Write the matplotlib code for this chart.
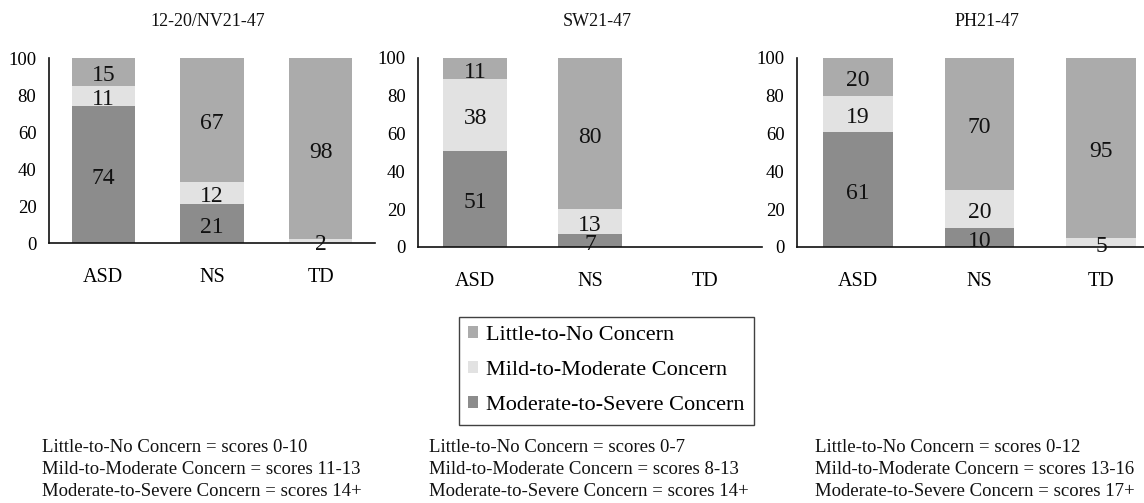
import numpy as np
import matplotlib
matplotlib.use('Agg')
import matplotlib.pyplot as plt

plt.rcParams['font.family'] = ['Liberation Serif', 'DejaVu Serif']

# ---- data ----
panel_titles = ['12-20/NV21-47', 'SW21-47', 'PH21-47']
groups = ['ASD', 'NS', 'TD']

severe_nv = [74, 21, 0]
mild_nv = [11, 12, 2]
little_nv = [15, 67, 98]

severe_sw = [51, 7, 0]
mild_sw = [38, 13, 0]
little_sw = [11, 80, 0]

severe_ph = [61, 10, 0]
mild_ph = [19, 20, 5]
little_ph = [20, 70, 95]

series_names = ['Little-to-No Concern', 'Mild-to-Moderate Concern', 'Moderate-to-Severe Concern']

cutoffs_nv = ['Little-to-No Concern = scores 0-10',
              'Mild-to-Moderate Concern = scores 11-13',
              'Moderate-to-Severe Concern = scores 14+']
cutoffs_sw = ['Little-to-No Concern = scores 0-7',
              'Mild-to-Moderate Concern = scores 8-13',
              'Moderate-to-Severe Concern = scores 14+']
cutoffs_ph = ['Little-to-No Concern = scores 0-12',
              'Mild-to-Moderate Concern = scores 13-16',
              'Moderate-to-Severe Concern = scores 17+']

panel_data = [
    (severe_nv, mild_nv, little_nv),
    (severe_sw, mild_sw, little_sw),
    (severe_ph, mild_ph, little_ph),
]
cutoff_lists = [cutoffs_nv, cutoffs_sw, cutoffs_ph]

c_little = '#ababab'
c_mild = '#e2e2e2'
c_severe = '#8c8c8c'

W, H = 1144, 503
fig = plt.figure(figsize=(W / 100, H / 100), dpi=100)

# axes rectangles in pixels: left, right, y of zero, y of 100
boxes = [(49, 375, 243, 58), (418, 762, 247, 58), (797, 1162, 247, 58)]
bar_widths = [0.58, 0.56, 0.57]
title_x = [208, 597, 987]
text_x = [42, 429, 815]

handles = None
for i, (left, right, y0, y100) in enumerate(boxes):
    ax = fig.add_axes([left / W, 1 - y0 / H, (right - left) / W, (y0 - y100) / H])
    severe, mild, little = panel_data[i]
    x = np.arange(len(groups))
    bw = bar_widths[i]
    b1 = ax.bar(x, severe, bw, color=c_severe, zorder=1)
    b2 = ax.bar(x, mild, bw, bottom=severe, color=c_mild, zorder=1)
    bottom3 = np.array(severe) + np.array(mild)
    b3 = ax.bar(x, little, bw, bottom=bottom3, color=c_little, zorder=1)
    if handles is None:
        handles = [b3, b2, b1]

    # value labels, centred in each segment
    for xi in x:
        base = 0
        for vals in (severe, mild, little):
            v = vals[xi]
            if v > 0:
                ax.text(xi, base + v / 2 - 2, str(v), ha='center', va='center',
                        fontsize=17, color='#111111', zorder=4)
            base += v

    ax.set_xlim(-0.5, 2.5)
    ax.set_ylim(0, 100)
    ax.set_yticks([0, 20, 40, 60, 80, 100])
    ax.set_xticks(x)
    ax.set_xticklabels(groups, fontsize=14.5)
    ax.tick_params(axis='y', length=0, pad=9, labelsize=13.5)
    ax.tick_params(axis='x', length=0, pad=18)
    for s in ('top', 'right'):
        ax.spines[s].set_visible(False)
    for s in ('left', 'bottom'):
        ax.spines[s].set_linewidth(1.2)
        ax.spines[s].set_color('#111111')
    ax.set_facecolor('none')

    fig.text(title_x[i] / W, 1 - 21 / H, panel_titles[i], ha='center', va='center',
             fontsize=13, color='#111111')

    for j, line in enumerate(cutoff_lists[i]):
        fig.text(text_x[i] / W, 1 - (448 + 22 * j) / H, line, ha='left', va='center',
                 fontsize=13.5, color='#111111')

leg = fig.legend(handles, series_names, loc='upper left',
                 bbox_to_anchor=(459 / W, 1 - 317 / H), borderaxespad=0, fontsize=16,
                 handlelength=0.45, handleheight=0.45, handletextpad=0.35,
                 labelspacing=0.72, borderpad=0.42, fancybox=False, frameon=True)
leg.get_frame().set_edgecolor('#111111')
leg.get_frame().set_linewidth(1.0)

fig.savefig('out.png', dpi=100)
